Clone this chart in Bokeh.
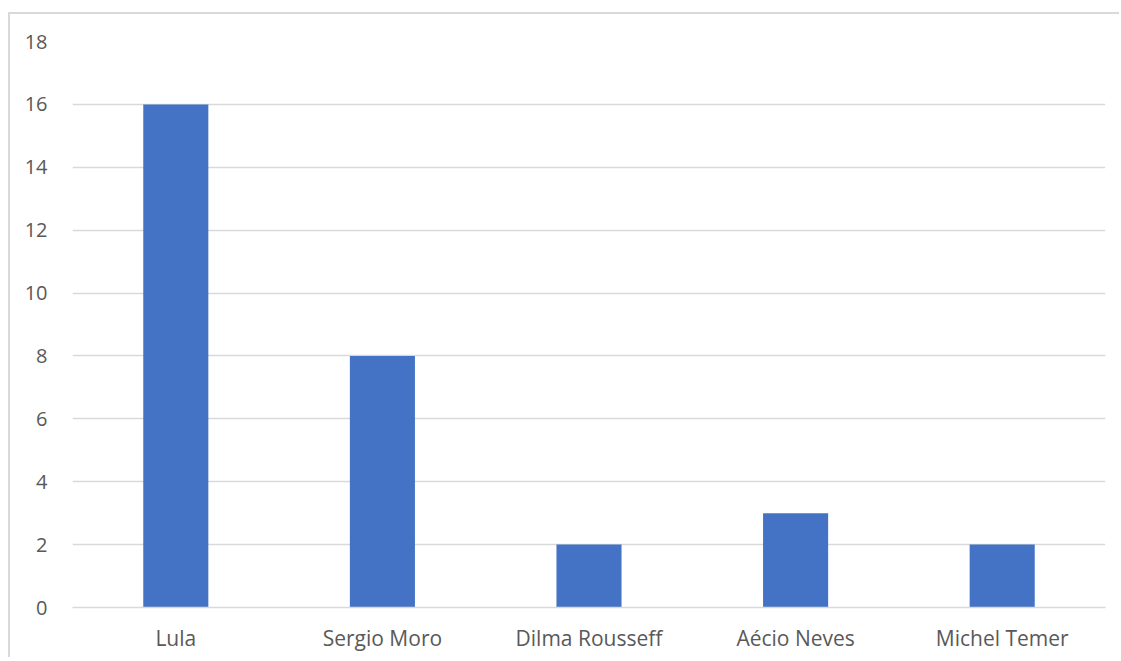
from bokeh.plotting import figure
from bokeh.embed import file_html
from bokeh.resources import INLINE
from bokeh.models import ColumnDataSource, FixedTicker

categories = ["Lula", "Sergio Moro", "Dilma Rousseff", "Aécio Neves", "Michel Temer"]
values = [16, 8, 2, 3, 2]
y_ticks = [0, 2, 4, 6, 8, 10, 12, 14, 16, 18]

FONT = "Open Sans"
TEXT_COLOR = "#595959"
GRID_COLOR = "#D9D9D9"
BAR_COLOR = "#4472C4"

source = ColumnDataSource(data=dict(cat=categories, val=values))

p = figure(
    x_range=categories, y_range=(0, 18),
    width=1111, height=645,
    output_backend="svg", toolbar_location=None,
    min_border_left=62, min_border_right=16,
    min_border_top=27, min_border_bottom=52,
)
p.styles = {"border-left": "2px solid #D9D9D9", "border-top": "2px solid #D9D9D9",
            "margin-top": "12px", "margin-left": "8px"}

p.vbar(x="cat", top="val", width=0.315, source=source, fill_color=BAR_COLOR, line_color=None)

p.outline_line_color = None
p.background_fill_color = "white"
p.border_fill_color = "white"

p.xgrid.grid_line_color = None
p.ygrid.grid_line_color = GRID_COLOR
p.ygrid.grid_line_width = 1.3
p.yaxis.ticker = FixedTicker(ticks=y_ticks)

p.yaxis.axis_line_color = None
p.yaxis.major_tick_line_color = None
p.yaxis.minor_tick_line_color = None
p.yaxis.major_label_standoff = 19
p.yaxis.major_label_text_font = FONT
p.yaxis.major_label_text_font_size = "20px"
p.yaxis.major_label_text_color = TEXT_COLOR

p.xaxis.axis_line_color = GRID_COLOR
p.xaxis.axis_line_width = 1.3
p.xaxis.major_tick_line_color = None
p.xaxis.minor_tick_line_color = None
p.xaxis.major_label_standoff = 10
p.xaxis.major_label_text_font = FONT
p.xaxis.major_label_text_font_size = "21px"
p.xaxis.major_label_text_color = TEXT_COLOR

open("out.html", "w").write(file_html(p, INLINE))
